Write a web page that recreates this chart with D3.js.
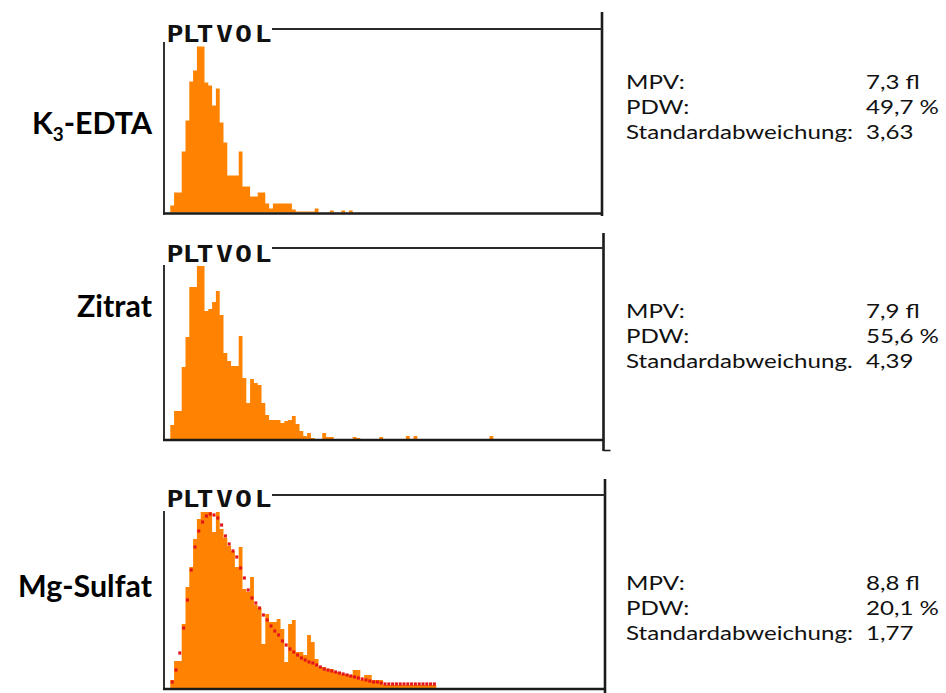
<!DOCTYPE html>
<html>
<head>
<meta charset="utf-8">
<script src="https://cdn.jsdelivr.net/npm/d3@7/dist/d3.min.js"></script>
<style>
  html, body { margin: 0; padding: 0; background: #fff; }
  svg { display: block; }
</style>
</head>
<body>
<svg id="chart" width="946" height="693"></svg>
<script>
// ---------------- DATA ----------------
const samples = ["K3-EDTA", "Zitrat", "Mg-Sulfat"];
const histTitle = "PLTVOL"; // displayed as "PLT VOL" (gap by glyph placement)

// histogram heights per volume channel (bin index 0..n)
const binsEDTA = [0,0,7,20,20,61,92,131,142,166,166,130,127,107,124,90,70,37,37,37,61,26,26,16,16,20,20,9,4,9,9,9,9,9,3,1,1,1,1,1,4,0,0,0,2,0,0,2,0,2];
const binsZitrat = [0,0,14,28,28,72,102,152,152,173,173,128,130,137,148,124,86,78,73,73,103,61,36,60,56,54,36,24,19,19,19,16,18,19,23,15,8,3,6,1,0,0,6,2,2,0,0,0,0,0,2,1,0,0,0,0,0,2,0,0,0,0,0,0,3,0,3,0,0,0,0,0,0,0,0,0,0,0,0,0,0,0,0,0,0,0,3];
const binsMg = [0,0,8,27,27,64,101,121,149,169,176,176,176,156,176,159,150,142,137,121,141,99,96,111,83,80,44,74,66,66,69,59,26,64,68,36,36,33,53,46,29,21,21,19,19,16,16,14,14,13,18,18,8,13,13,8,8,8,3,3,3,3,3,3,3,3,3,3,3,3,3,3];
// fitted reference curve (red dashes) for Mg-Sulfat
const fitMg = [0,0,6,18,35,60,88,118,141,157,166,172,174,173,170,163,152,144,137,131,120,110,98,90,85,80,73,68,62,57,53,47,43,39,36,33,30,28,26,25,23,21,19,18,17,16,15,14,13,12,11,10,9,8,7,6,6,5,4,4,4,4,4,4,4,4,4,4,4,4,4,4];

const statLabelsA = ["MPV:", "PDW:", "Standardabweichung:"];
const statLabelsB = ["MPV:", "PDW:", "Standardabweichung."];
const statsEDTA = ["7,3 fl", "49,7 %", "3,63"];
const statsZitrat = ["7,9 fl", "55,6 %", "4,39"];
const statsMg = ["8,8 fl", "20,1 %", "1,77"];

const histograms = [binsEDTA, binsZitrat, binsMg];
const fits = [null, null, fitMg];
const statLabels = [statLabelsA, statLabelsB, statLabelsA];
const statValues = [statsEDTA, statsZitrat, statsMg];

// ---------------- LAYOUT (style) ----------------
const layout = [
  { base: 212.5, topLine: 29, axisTop: 42, titleBase: 42, right: 602, rTop: 12, rBot: 216, stub: false, label: 134, stats: [89, 114, 138.5] },
  { base: 439, topLine: 248, axisTop: 265, titleBase: 262, right: 603.5, rTop: 233, rBot: 451, stub: true, label: 317, stats: [318, 343, 367.5] },
  { base: 688, topLine: 495, axisTop: 511, titleBase: 507, right: 605, rTop: 479, rBot: 693, stub: false, label: 597, stats: [590, 615, 639.5] }
];
const binX0 = 162.7, binW = 3.8, nBinsFull = 116;
const axisX = 164;
const titleX0 = 166.5, titleScale = 1.2;
const titleCharDx = [0, 16, 30, 49.5, 68.5, 88];
const orange = "#ff8300", red = "#e3141b", ink = "#1b1b1b";
const uiFont = "Lato, 'Open Sans', sans-serif";

const svg = d3.select("#chart");

function measure(text, family, weight, size) {
  const t = svg.append("text").attr("font-family", family).attr("font-weight", weight)
    .attr("font-size", size).text(text);
  const w = t.node().getComputedTextLength();
  t.remove();
  return w;
}
const labelSize = 100 * 134 / measure("Mg-Sulfat", uiFont, 700, 100);
const statSize = 19.5;
const statStretch = 227 / measure("Standardabweichung:", uiFont, 400, statSize);

const x = d3.scaleLinear().domain([0, nBinsFull]).range([binX0, binX0 + binW * nBinsFull]);

function statText(str, xPos, yPos) {
  const w = measure(str, uiFont, 400, statSize);
  svg.append("text").attr("x", xPos).attr("y", yPos)
    .attr("font-family", uiFont).attr("font-size", statSize).attr("fill", "#111")
    .attr("textLength", w * statStretch).attr("lengthAdjust", "spacingAndGlyphs")
    .text(str);
}

layout.forEach((L, i) => {
  const g = svg.append("g");
  const y = d3.scaleLinear().domain([0, 180]).range([L.base, L.base - 180]);
  const data = histograms[i];
  const pts = data.map((v, k) => [k, v]).concat([[data.length, 0]]);

  const area = d3.area()
    .x(d => x(d[0]))
    .y0(y(0))
    .y1(d => y(d[1]))
    .curve(d3.curveStepAfter);
  g.append("path").datum(pts).attr("d", area).attr("fill", orange);

  if (fits[i]) {
    g.selectAll("rect.fit").data(fits[i].map((v, k) => [k, v]).filter(d => d[1] > 0))
      .join("rect").attr("class", "fit")
      .attr("x", d => x(d[0] + 0.5) - 1.5)
      .attr("width", 3)
      .attr("y", d => y(d[1]) - 1.6)
      .attr("height", 3.2)
      .attr("fill", red);
  }

  g.append("line").attr("x1", axisX - 1).attr("x2", L.right).attr("y1", L.base + 1).attr("y2", L.base + 1)
    .attr("stroke", ink).attr("stroke-width", 2.6);
  g.append("line").attr("x1", axisX).attr("x2", axisX).attr("y1", L.axisTop).attr("y2", L.base + 2)
    .attr("stroke", ink).attr("stroke-width", 1.8);
  g.append("line").attr("x1", L.right).attr("x2", L.right).attr("y1", L.rTop).attr("y2", L.rBot)
    .attr("stroke", ink).attr("stroke-width", 2.6);
  if (L.stub) {
    g.append("line").attr("x1", L.right).attr("x2", L.right + 7).attr("y1", L.rBot - 0.5).attr("y2", L.rBot - 0.5)
      .attr("stroke", ink).attr("stroke-width", 1.6);
  }
  g.append("g").attr("transform", `translate(${titleX0},${L.titleBase}) scale(${titleScale},1)`)
    .append("text").attr("x", titleCharDx.map(d => d / titleScale).join(" ")).attr("y", 0)
    .attr("font-family", "'DejaVu Sans Mono', monospace").attr("font-weight", 700)
    .attr("font-size", 23.5).attr("fill", "#111")
    .text(histTitle);
  g.append("line").attr("x1", 272).attr("x2", L.right).attr("y1", L.topLine).attr("y2", L.topLine)
    .attr("stroke", "#2a2a2a").attr("stroke-width", 2);

  const lab = svg.append("text").attr("x", 152).attr("y", L.label)
    .attr("text-anchor", "end").attr("font-family", uiFont).attr("font-weight", 700)
    .attr("font-size", labelSize).attr("fill", "#000");
  if (samples[i] === "K3-EDTA") {
    lab.append("tspan").text("K");
    lab.append("tspan").attr("font-size", labelSize * 0.62).attr("dy", labelSize * 0.22).text("3");
    lab.append("tspan").attr("dy", -labelSize * 0.22).text("-EDTA");
  } else {
    lab.text(samples[i]);
  }

  statLabels[i].forEach((s, j) => {
    statText(s, 626, L.stats[j]);
    statText(statValues[i][j], 866, L.stats[j]);
  });
});
</script>
</body>
</html>
